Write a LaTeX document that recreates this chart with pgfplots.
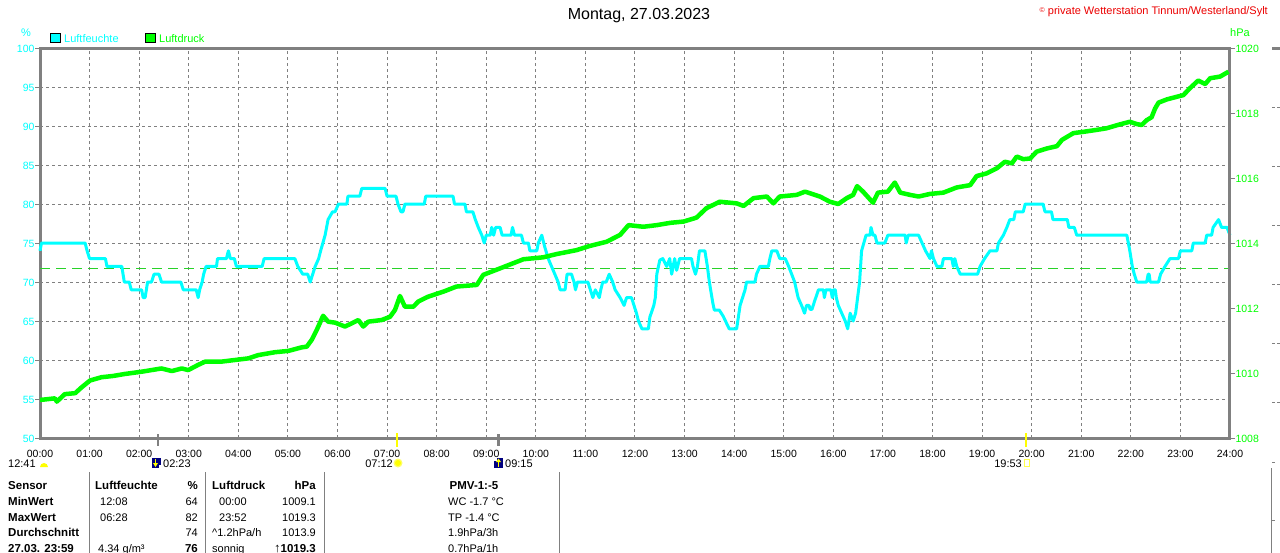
\documentclass[border=0pt]{standalone}
\usepackage{fontspec}
\setmainfont{Liberation Sans}
\usepackage{pgfplots}
\pgfplotsset{compat=1.18}
\definecolor{cy}{RGB}{0,255,255}
\definecolor{gr}{RGB}{0,255,0}
\definecolor{ax}{RGB}{128,128,128}
\definecolor{avg}{RGB}{40,210,40}
\definecolor{navy}{RGB}{0,0,128}
\definecolor{cr}{RGB}{235,0,0}
\definecolor{ye}{RGB}{255,255,0}
\newcommand\fs[1]{\fontsize{#1}{#1}\selectfont}
\tikzset{t/.style={inner sep=0pt, font=\fs{11}, text height=8pt, text depth=0pt},
         b/.style={t, font=\bfseries\fs{11.5}}}
\begin{document}
\begin{tikzpicture}
\useasboundingbox (0,0) rectangle (1280pt,-552pt);
\begin{axis}[
  at={(40pt,-438pt)}, anchor=south west,
  width=1190pt, height=390pt, scale only axis, clip=false,
  xmin=0, xmax=24, ymin=50, ymax=100,
  xtick={0,1,...,24},
  xticklabels={00:00,01:00,02:00,03:00,04:00,05:00,06:00,07:00,08:00,09:00,10:00,11:00,12:00,13:00,14:00,15:00,16:00,17:00,18:00,19:00,20:00,21:00,22:00,23:00,24:00},
  ytick={50,55,...,100},
  ytick pos=left,
  xtick style={draw=none},
  ytick style={ax, line width=1pt},
  tick align=outside, major tick length=5pt,
  grid=major,
  major grid style={ax, line width=1pt, dash pattern=on 3pt off 3pt},
  axis line style={ax, line width=3pt},
  /pgf/number format/assume math mode=true,
  xticklabel style={font=\fs{10.5}, text height=8pt, text depth=0pt, yshift=-3pt},
  yticklabel style={font=\fs{10.5}, text=cy, text height=8pt, text depth=0pt, xshift=3pt},
]
\addplot[avg, line width=1.5pt, dash pattern=on 10pt off 6pt] coordinates {(0,71.7)(24,71.7)};
\addplot[cy, line width=3pt, line join=round] coordinates {
(0,74)(0.03,75)(0.91,75)(0.95,74)(1.0,73)(1.32,73)(1.35,72)(1.65,72)(1.7,70)(1.8,70)(1.84,69)(2.05,69)(2.08,68)(2.12,68)(2.17,70)(2.25,70)(2.3,71)(2.4,71)(2.45,70)(2.84,70)(2.89,69)(3.15,69)(3.19,68)(3.22,69)(3.27,70)(3.3,71)(3.35,72)(3.56,72)(3.58,73)(3.76,73)(3.8,74)(3.84,73)(3.92,73)(3.96,72)(4.48,72)(4.52,73)(5.14,73)(5.2,72)(5.3,71)(5.4,71)(5.45,70)(5.5,71)(5.55,72)(5.62,73)(5.66,74)(5.75,76)(5.81,78)(5.9,79)(5.95,79)(6.02,80)(6.19,80)(6.21,81)(6.45,81)(6.49,82)(6.96,82)(7.0,81)(7.18,81)(7.22,80)(7.28,79)(7.32,79)(7.36,80)(7.75,80)(7.78,81)(8.33,81)(8.36,80)(8.57,80)(8.6,79)(8.73,79)(8.78,78)(8.84,77)(8.91,76)(8.96,75)(9.0,76)(9.08,76)(9.11,77)(9.15,76)(9.19,77)(9.28,77)(9.32,76)(9.5,76)(9.53,77)(9.57,76)(9.71,76)(9.75,75)(9.85,75)(9.88,74)(10.02,74)(10.05,75)(10.12,76)(10.18,74.5)(10.25,73)(10.35,71.5)(10.45,70)(10.49,69)(10.59,69)(10.63,71)(10.72,71)(10.77,70)(10.8,69)(10.84,70)(11.05,70)(11.1,69)(11.15,68)(11.2,69)(11.28,68)(11.31,69)(11.35,70)(11.42,70)(11.48,71)(11.55,70)(11.6,69)(11.7,68)(11.78,67)(11.83,68)(11.93,68)(11.98,67)(12.03,66)(12.07,65)(12.14,64)(12.27,64)(12.3,65.5)(12.38,67)(12.41,68)(12.44,71)(12.5,72.8)(12.56,73)(12.64,72)(12.7,73)(12.74,71)(12.8,73)(12.84,71.5)(12.9,73)(13.14,73)(13.17,72)(13.22,71)(13.26,72)(13.3,74)(13.41,74)(13.46,72)(13.5,70)(13.57,67.3)(13.6,66.4)(13.7,66.4)(13.78,65.6)(13.9,64)(14.05,64)(14.12,67)(14.22,69)(14.25,70)(14.42,70)(14.45,71)(14.52,72)(14.69,72)(14.72,73)(14.76,74)(14.86,74)(14.92,73)(15.03,73)(15.1,72)(15.16,71)(15.22,70)(15.29,68)(15.36,67)(15.42,66)(15.46,67)(15.51,67)(15.53,66.5)(15.57,66.5)(15.62,67.5)(15.7,69)(15.8,69)(15.82,68)(15.85,69)(15.95,69)(15.98,68)(16.0,69)(16.04,69)(16.06,68)(16.1,67)(16.17,66)(16.24,65)(16.29,64)(16.34,66)(16.4,65)(16.45,66)(16.53,70)(16.57,74)(16.66,76)(16.74,76)(16.76,77)(16.8,76)(16.84,76)(16.88,75)(17.04,75)(17.1,76)(17.45,76)(17.47,75)(17.51,76)(17.72,76)(17.79,75)(17.86,74)(17.95,73)(17.98,74)(18.02,73)(18.09,72)(18.19,72)(18.22,73)(18.39,73)(18.42,72)(18.45,73)(18.49,72)(18.56,71)(18.91,71)(18.96,72)(19.05,73)(19.16,74)(19.3,74)(19.33,75)(19.43,76)(19.5,77)(19.56,78)(19.64,78)(19.67,79)(19.83,79)(19.87,80)(20.23,80)(20.27,79)(20.4,79)(20.43,78)(20.72,78)(20.75,77)(20.86,77)(20.91,76)(21.92,76)(21.98,74)(22.03,72)(22.07,71)(22.12,70)(22.32,70)(22.35,71)(22.37,71)(22.39,70)(22.56,70)(22.6,71)(22.69,72)(22.79,73)(22.96,73)(23.0,74)(23.23,74)(23.26,75)(23.5,75)(23.53,76)(23.63,76)(23.66,77)(23.77,78)(23.83,77)(23.94,77)(24,76)};
% event markers (sun/moon rise and set)
\draw[ax, line width=2.5pt] ([yshift=4pt]axis cs:2.383,50) -- ([yshift=-8pt]axis cs:2.383,50);
\draw[ax, line width=2.5pt] ([yshift=4pt]axis cs:9.25,50) -- ([yshift=-8pt]axis cs:9.25,50);
\draw[ye, line width=2.5pt] ([yshift=5pt]axis cs:7.2,50) -- ([yshift=-9pt]axis cs:7.2,50);
\draw[ye, line width=2.5pt] ([yshift=5pt]axis cs:19.883,50) -- ([yshift=-9pt]axis cs:19.883,50);
\end{axis}
\begin{axis}[
  at={(40pt,-438pt)}, anchor=south west,
  width=1190pt, height=390pt, scale only axis, clip=false,
  xmin=0, xmax=24, ymin=1008, ymax=1020,
  axis x line=none, axis y line*=right,
  ytick={1008,1010,...,1020},
  tick align=outside, major tick length=5pt,
  ytick style={ax, line width=1pt},
  axis line style={ax, line width=3pt},
  /pgf/number format/assume math mode=true,
  /pgf/number format/1000 sep={},
  yticklabel style={font=\fs{10.5}, text=gr, text height=8pt, text depth=0pt, xshift=-3pt},
]
\addplot[gr, line width=4.5pt, line join=round] coordinates {
(0,1009.17)(0.3,1009.22)(0.34,1009.12)(0.5,1009.35)(0.71,1009.38)(0.84,1009.56)(1.01,1009.77)(1.24,1009.87)(1.48,1009.91)(1.71,1009.97)(2.05,1010.04)(2.45,1010.14)(2.66,1010.06)(2.86,1010.14)(2.99,1010.09)(3.19,1010.25)(3.33,1010.35)(3.66,1010.35)(3.93,1010.4)(4.2,1010.45)(4.4,1010.55)(4.74,1010.64)(5.01,1010.68)(5.28,1010.79)(5.38,1010.81)(5.48,1011.02)(5.58,1011.32)(5.71,1011.76)(5.81,1011.58)(5.95,1011.55)(6.15,1011.43)(6.29,1011.53)(6.42,1011.63)(6.52,1011.43)(6.62,1011.58)(6.89,1011.63)(7.06,1011.73)(7.16,1011.94)(7.26,1012.37)(7.36,1012.04)(7.53,1012.04)(7.63,1012.2)(7.83,1012.35)(8.13,1012.5)(8.4,1012.66)(8.81,1012.71)(8.94,1013.02)(9.28,1013.22)(9.75,1013.5)(10.15,1013.56)(10.42,1013.66)(10.82,1013.78)(11.09,1013.91)(11.43,1014.04)(11.7,1014.25)(11.87,1014.55)(12.17,1014.5)(12.44,1014.55)(12.71,1014.62)(12.98,1014.66)(13.24,1014.78)(13.44,1015.07)(13.71,1015.27)(14.05,1015.22)(14.19,1015.14)(14.39,1015.38)(14.66,1015.43)(14.79,1015.22)(14.92,1015.43)(15.26,1015.48)(15.43,1015.58)(15.73,1015.43)(15.93,1015.27)(16.1,1015.2)(16.27,1015.38)(16.4,1015.48)(16.48,1015.75)(16.6,1015.58)(16.8,1015.24)(16.9,1015.55)(17.1,1015.58)(17.24,1015.86)(17.35,1015.55)(17.55,1015.48)(17.72,1015.43)(17.95,1015.51)(18.22,1015.55)(18.49,1015.71)(18.76,1015.78)(18.89,1016.06)(19.09,1016.14)(19.3,1016.3)(19.46,1016.5)(19.6,1016.45)(19.7,1016.66)(19.83,1016.58)(19.97,1016.6)(20.1,1016.81)(20.31,1016.91)(20.51,1016.98)(20.61,1017.17)(20.84,1017.38)(21.04,1017.42)(21.31,1017.48)(21.51,1017.53)(21.78,1017.65)(21.98,1017.73)(22.12,1017.66)(22.22,1017.63)(22.32,1017.78)(22.42,1017.87)(22.49,1018.14)(22.56,1018.32)(22.73,1018.42)(22.93,1018.5)(23.06,1018.55)(23.19,1018.76)(23.36,1019.0)(23.5,1018.89)(23.6,1019.07)(23.8,1019.12)(23.97,1019.27)};
\end{axis}
\begin{scope}[x=1pt,y=-1pt]
% title and credits
\node[font=\fs{16}, inner sep=0pt] at (639,16) {Montag, 27.03.2023};
\node[anchor=east, text=cr, font=\fs{11}, inner sep=0pt] at (1268,12) {\raisebox{2pt}{\fs{7}©} private Wetterstation Tinnum/Westerland/Sylt};
% legend
\draw[fill=cy, draw=black, line width=1pt] (50.5,33) rectangle (60,42.5);
\node[t, anchor=west, text=cy] at (64,38) {Luftfeuchte};
\draw[fill=gr, draw=black, line width=1pt] (145.5,33) rectangle (155,42.5);
\node[t, anchor=west, text=gr] at (159,38) {Luftdruck};
\node[t, text=cy] at (26,32) {\%};
\node[t, anchor=west, text=gr] at (1230,32) {hPa};
% sun and moon events
\node[t, anchor=west] at (8,463) {12:41};
\fill[ye] (40,467) arc[start angle=180, end angle=360, radius=4];
\fill[navy] (152,458) rectangle (161,468);
\draw[ye, line width=1.3pt] (155.5,459) -- (155.5,464);
\fill[ye] (153,463) -- (158,463) -- (155.5,467) -- cycle;
\fill[white] (159,465) rectangle (161,468);
\node[t, anchor=west] at (163,463) {02:23};
\node[t, anchor=east] at (393,463) {07:12};
\fill[ye!60] (398,463) circle (4.5);
\fill[ye] (398,463) circle (3);
\fill[navy] (494,458) rectangle (503,468);
\draw[ye, line width=1.3pt] (498.5,462) -- (498.5,467);
\fill[ye] (496,462) -- (501,462) -- (498.5,458.5) -- cycle;
\fill[white] (494,458) rectangle (496.5,461);
\node[t, anchor=west] at (505,463) {09:15};
\node[t, anchor=east] at (1022,463) {19:53};
\draw[ye!70, line width=1pt] (1024,459.5) rectangle (1029.5,466);
% table
\foreach \xx in {89,205,324,559} \draw[ax, line width=1pt] (\xx,472) -- (\xx,553);
\node[b, anchor=west] at (8,485) {Sensor};
\node[b, anchor=west] at (95,485) {Luftfeuchte};
\node[b, anchor=east] at (198,485) {\%};
\node[b, anchor=west] at (212,485) {Luftdruck};
\node[b, anchor=east] at (316,485) {hPa};
\node[b] at (474,485) {PMV-1:-5};
\node[b, anchor=west] at (8,501) {MinWert};
\node[t, anchor=west] at (100,501) {12:08};
\node[t, anchor=east] at (198,501) {64};
\node[t, anchor=west] at (219,501) {00:00};
\node[t, anchor=east] at (316,501) {1009.1};
\node[t, anchor=west] at (448,501) {WC -1.7 °C};
\node[b, anchor=west] at (8,517) {MaxWert};
\node[t, anchor=west] at (100,517) {06:28};
\node[t, anchor=east] at (198,517) {82};
\node[t, anchor=west] at (219,517) {23:52};
\node[t, anchor=east] at (316,517) {1019.3};
\node[t, anchor=west] at (448,517) {TP -1.4 °C};
\node[b, anchor=west] at (8,532) {Durchschnitt};
\node[t, anchor=east] at (198,532) {74};
\node[t, anchor=west] at (212,532) {\textasciicircum 1.2hPa/h};
\node[t, anchor=east] at (316,532) {1013.9};
\node[t, anchor=west] at (448,532) {1.9hPa/3h};
\node[b, anchor=west] at (8,548) {27.03. 23:59};
\node[t, anchor=west] at (98,548) {4.34 g/m³};
\node[b, anchor=east] at (198,548) {76};
\node[t, anchor=west] at (212,548) {sonnig};
\node[b, anchor=east] at (316,548) {{\fs{13}↑}1019.3};
\node[t, anchor=west] at (448,548) {0.7hPa/1h};
% edge of the next panel
\draw[ax, line width=3pt] (1272,48) -- (1280,48);
\foreach \yy in {107,166,225,284,343,402} \draw[ax, line width=1pt] (1272,\yy) -- (1275,\yy) (1277,\yy) -- (1280,\yy);
\draw[ax, line width=1pt] (1271,468) -- (1271,553);
\draw[ax, line width=1pt] (1272,462) -- (1275,462) (1272,520) -- (1275,520);
\end{scope}
\end{tikzpicture}
\end{document}
